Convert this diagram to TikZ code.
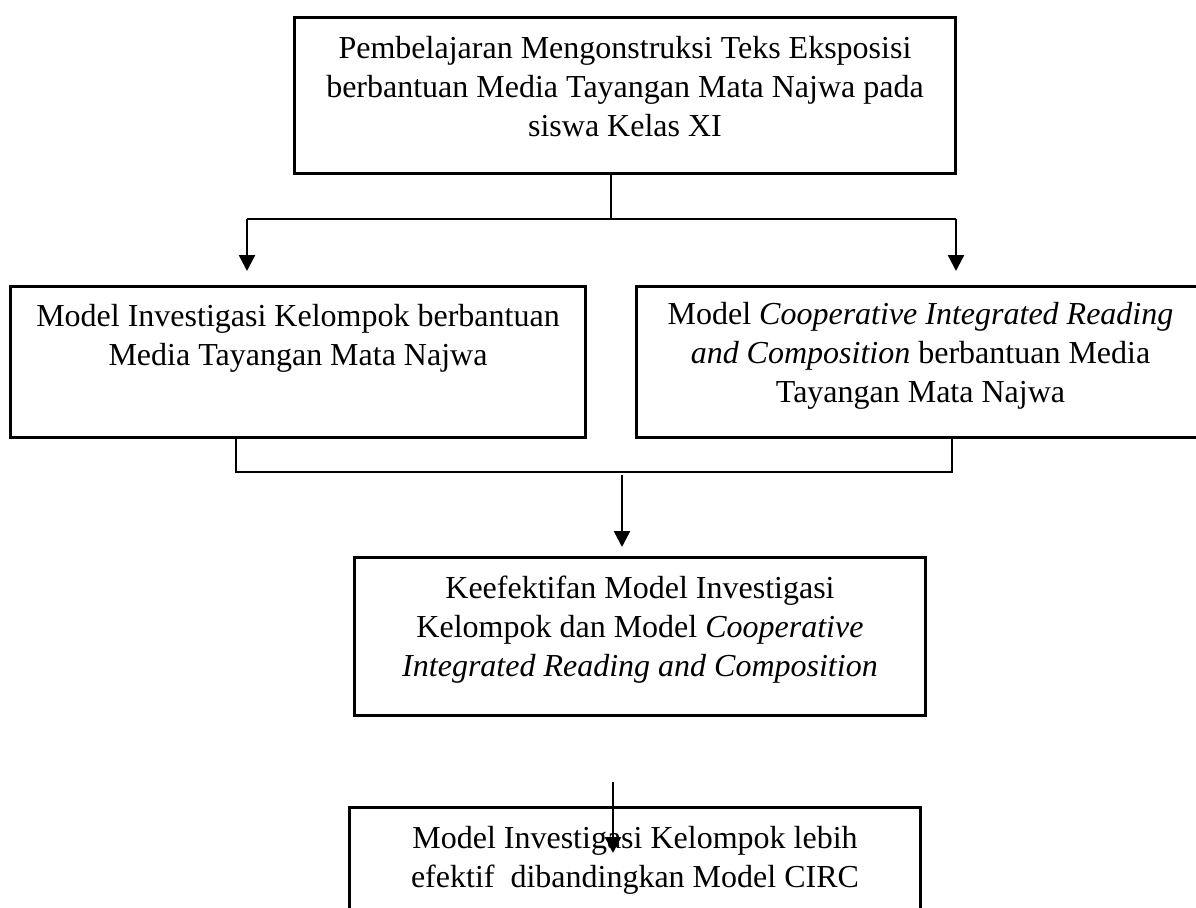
\documentclass[tikz,border=0pt]{standalone}
\usepackage{fontspec}
\setmainfont{Liberation Serif}
\usetikzlibrary{arrows.meta,positioning,calc}

\tikzset{
    box/.style={draw, line width=1.5pt, align=flush center, anchor=north west, inner sep=0pt,
        font=\fontsize{16pt}{19.5pt}\selectfont},
    link/.style={line width=0.6pt},
    flow/.style={line width=1.2pt, -{Triangle[length=8pt,width=8pt]}}
}

\begin{document}
\begin{tikzpicture}[x=0.5pt, y=-0.5pt]
    \useasboundingbox (0,0) rectangle (1196,907);
    \clip (0,0) rectangle (1196,907);

    % boxes
    \node[box, text width=330.5pt, text height=20.5pt, text depth=57.5pt] (ajar) at (293,16)
        {Pembelajaran Mengonstruksi Teks Eksposisi\\
         berbantuan Media Tayangan Mata Najwa pada\\
         siswa Kelas XI};
    \node[box, text width=287.5pt, text height=20pt, text depth=55.5pt] (gi) at (9,285)
        {Model Investigasi Kelompok berbantuan\\
         Media Tayangan Mata Najwa};
    \node[box, text width=284pt, text height=19pt, text depth=56.5pt] (circ) at (635,285)
        {Model \textit{Cooperative Integrated Reading}\\
         \textit{and Composition} berbantuan Media\\
         Tayangan Mata Najwa};
    \node[box, text width=285.5pt, text height=20.5pt, text depth=58.5pt] (efek) at (353,556)
        {Keefektifan Model Investigasi\\
         Kelompok dan Model \textit{Cooperative}\\
         \textit{Integrated Reading and Composition}};
    \node[box, text width=285.5pt, text height=20.5pt, text depth=100pt] (hasil) at (348,806)
        {Model Investigasi Kelompok lebih\\
         efektif\ \ dibandingkan Model CIRC};

    % junctions
    \coordinate (bagi) at (611,219);
    \coordinate (bagiL) at (247,219);
    \coordinate (bagiR) at (956,219);
    \coordinate (ujungL) at (247,271);
    \coordinate (ujungR) at (956,271);
    \coordinate (gabL) at (236,472);
    \coordinate (gabR) at (952,472);
    \coordinate (turun) at (622,475);
    \coordinate (ujungM) at (622,547);
    \coordinate (akhir) at (613,782);
    \coordinate (ujungB) at (613,853);

    % connectors
    \draw[link] (ajar.south -| bagi) -- (bagi);
    \draw[link] (bagiL) -- (bagiR);
    \draw[flow] (bagiL) -- (ujungL);
    \draw[flow] (bagiR) -- (ujungR);
    \draw[link] (gi.south -| gabL) -- (gabL) -- (gabR) -- (circ.south -| gabR);
    \draw[flow] (turun) -- (ujungM);
    \draw[flow] (akhir) -- (ujungB);
\end{tikzpicture}
\end{document}
